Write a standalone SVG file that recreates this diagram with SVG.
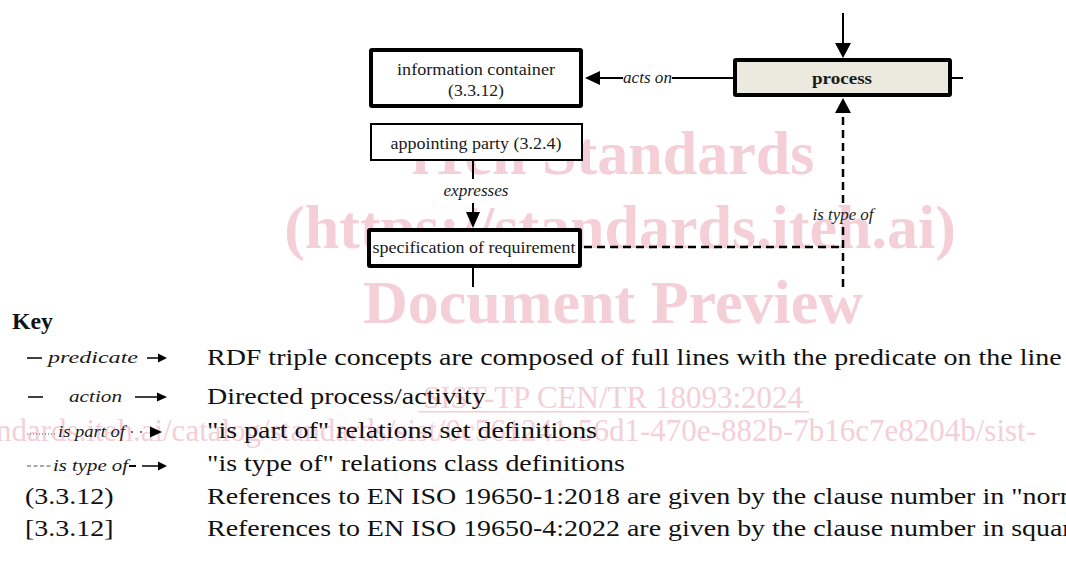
<svg xmlns="http://www.w3.org/2000/svg" width="1066" height="567" viewBox="0 0 1066 567">
  <style>
    .wm { font-family: "Liberation Serif", serif; fill: #F4CFD8; }
    .wmb { font-weight: bold; font-size: 62px; }
    .wms { font-size: 31px; }
    .lbl { font-family: "Liberation Serif", serif; font-size: 16px; fill: #1a1a1a; }
    .it { font-style: italic; }
    .bd { font-weight: bold; }
    .body { font-family: "Liberation Serif", serif; font-size: 24px; fill: #111; }
    .box { fill: #fff; stroke: #000; }
    .thick { stroke-width: 4; }
    .thin { stroke-width: 2; }
    .ln { stroke: #000; stroke-width: 2; fill: none; }
    .dash { stroke: #000; stroke-width: 2.5; fill: none; stroke-dasharray: 8 5; }
    .head { fill: #000; }
  </style>

  <!-- background watermark -->
  <g id="watermark">
    <text class="wm wmb" x="613" y="174" text-anchor="middle">iTeh Standards</text>
    <text class="wm wmb" x="620" y="248" text-anchor="middle">(https://standards.iteh.ai)</text>
    <text class="wm wmb" x="613" y="323" text-anchor="middle">Document Preview</text>
    <text class="wm wms" x="613" y="408" text-anchor="middle">SIST-TP CEN/TR 18093:2024</text>
    <rect x="418" y="411" width="391" height="1.6" fill="#F4CFD8"/>
    <text class="wm wms" x="-4" y="441">ndards.iteh.ai/catalog/standards/sist/0c561241-56d1-470e-882b-7b16c7e8204b/sist-</text>
  </g>

  <!-- connectors -->
  <g id="connectors">
    <!-- incoming arrow into process -->
    <line class="ln" x1="843" y1="13" x2="843" y2="45"/>
    <polygon class="head" points="835,43 851,43 843,58"/>
    <!-- process acts on information container -->
    <line class="ln" x1="733" y1="78" x2="672" y2="78"/>
    <line class="ln" x1="623" y1="78" x2="598" y2="78"/>
    <polygon class="head" points="600,71 600,85 585,78"/>
    <text class="lbl it" x="647.5" y="83" text-anchor="middle" textLength="49" lengthAdjust="spacingAndGlyphs">acts on</text>
    <!-- outgoing stub from process -->
    <line class="ln" x1="952" y1="78" x2="963" y2="78"/>
    <!-- appointing party expresses specification of requirement -->
    <line class="ln" x1="473" y1="161" x2="473" y2="179"/>
    <text class="lbl it" x="476" y="196" text-anchor="middle" textLength="65" lengthAdjust="spacingAndGlyphs">expresses</text>
    <line class="ln" x1="473" y1="203" x2="473" y2="214"/>
    <polygon class="head" points="466,212 480,212 473,228"/>
    <!-- outgoing stub below specification -->
    <line class="ln" x1="473" y1="268" x2="473" y2="287"/>
    <!-- is type of: specification -> process -->
    <line class="dash" x1="584" y1="247" x2="843" y2="247"/>
    <line class="dash" x1="843" y1="287" x2="843" y2="223"/>
    <line class="dash" x1="843" y1="203" x2="843" y2="112"/>
    <polygon class="head" points="835,113 851,113 843,98"/>
    <text class="lbl it" x="843" y="220" text-anchor="middle" textLength="61" lengthAdjust="spacingAndGlyphs">is type of</text>
  </g>

  <g id="node-information-container">
    <rect class="box thick" x="371" y="50" width="210" height="56" rx="1"/>
    <text class="lbl" x="476" y="75" text-anchor="middle" textLength="158" lengthAdjust="spacingAndGlyphs">information container</text>
    <text class="lbl" x="476" y="96" text-anchor="middle" textLength="56" lengthAdjust="spacingAndGlyphs">(3.3.12)</text>
  </g>

  <g id="node-process">
    <rect class="thick" x="735" y="60" width="215" height="35" rx="1" fill="#ECEADF" stroke="#000"/>
    <text class="lbl bd" x="842" y="84" text-anchor="middle" textLength="60" lengthAdjust="spacingAndGlyphs">process</text>
  </g>

  <g id="node-appointing-party">
    <rect class="box thin" x="371" y="124" width="211" height="36"/>
    <text class="lbl" x="476" y="149" text-anchor="middle" textLength="171" lengthAdjust="spacingAndGlyphs">appointing party (3.2.4)</text>
  </g>

  <g id="node-specification-of-requirement">
    <rect class="box thick" x="369" y="230" width="211" height="36" rx="1"/>
    <text class="lbl" x="474" y="253" text-anchor="middle" textLength="203" lengthAdjust="spacingAndGlyphs">specification of requirement</text>
  </g>

  <!-- key -->
  <g id="key">
    <text class="body bd" x="12" y="329" font-size="20" textLength="41" lengthAdjust="spacingAndGlyphs">Key</text>

    <!-- predicate -->
    <line x1="27" y1="358" x2="42" y2="358" stroke="#000" stroke-width="1.5"/>
    <text class="lbl it" x="48" y="363" font-size="18" textLength="90" lengthAdjust="spacingAndGlyphs">predicate</text>
    <line x1="147" y1="358" x2="160" y2="358" stroke="#000" stroke-width="1.5"/>
    <polygon class="head" points="158,353.5 167,358 158,362.5"/>

    <!-- action -->
    <line x1="28" y1="397" x2="43" y2="397" stroke="#000" stroke-width="1.5"/>
    <text class="lbl it" x="69" y="402" font-size="18" textLength="53" lengthAdjust="spacingAndGlyphs">action</text>
    <line x1="135" y1="397" x2="160" y2="397" stroke="#000" stroke-width="1.5"/>
    <polygon class="head" points="157,392.5 167,397 157,401.5"/>

    <!-- is part of -->
    <line x1="27" y1="434" x2="57" y2="434" stroke="#555" stroke-width="1" stroke-dasharray="1 2"/>
    <text class="lbl it" x="58" y="437" font-size="17" textLength="67" lengthAdjust="spacingAndGlyphs">is part of</text>
    <circle cx="132" cy="432" r="0.9" fill="#333"/>
    <circle cx="141" cy="432" r="0.9" fill="#333"/>
    <polygon class="head" points="150,426.5 162,432 150,437.5"/>

    <!-- is type of -->
    <line x1="27" y1="466" x2="53" y2="466" stroke="#555" stroke-width="1" stroke-dasharray="4 2.5"/>
    <text class="lbl it" x="53" y="471" font-size="17" textLength="75" lengthAdjust="spacingAndGlyphs">is type of</text>
    <line x1="129" y1="466" x2="136" y2="466" stroke="#000" stroke-width="2"/>
    <line x1="142" y1="466" x2="160" y2="466" stroke="#000" stroke-width="1.5"/>
    <polygon class="head" points="158,461.5 167,466 158,470.5"/>

    <g transform="translate(25 0) scale(1.165 1)">
      <text class="body" x="0" y="504">(3.3.12)</text>
      <text class="body" x="0" y="536">[3.3.12]</text>
    </g>

    <g transform="translate(207 0) scale(1.165 1)">
      <text class="body" x="0" y="365">RDF triple concepts are composed of full lines with the predicate on the line</text>
      <text class="body" x="0" y="404">Directed process/activity</text>
      <text class="body" x="0" y="438">"is part of" relations set definitions</text>
      <text class="body" x="0" y="471">"is type of" relations class definitions</text>
      <text class="body" x="0" y="504">References to EN ISO 19650-1:2018 are given by the clause number in "norm</text>
      <text class="body" x="0" y="536">References to EN ISO 19650-4:2022 are given by the clause number in squar</text>
    </g>
  </g>
</svg>
